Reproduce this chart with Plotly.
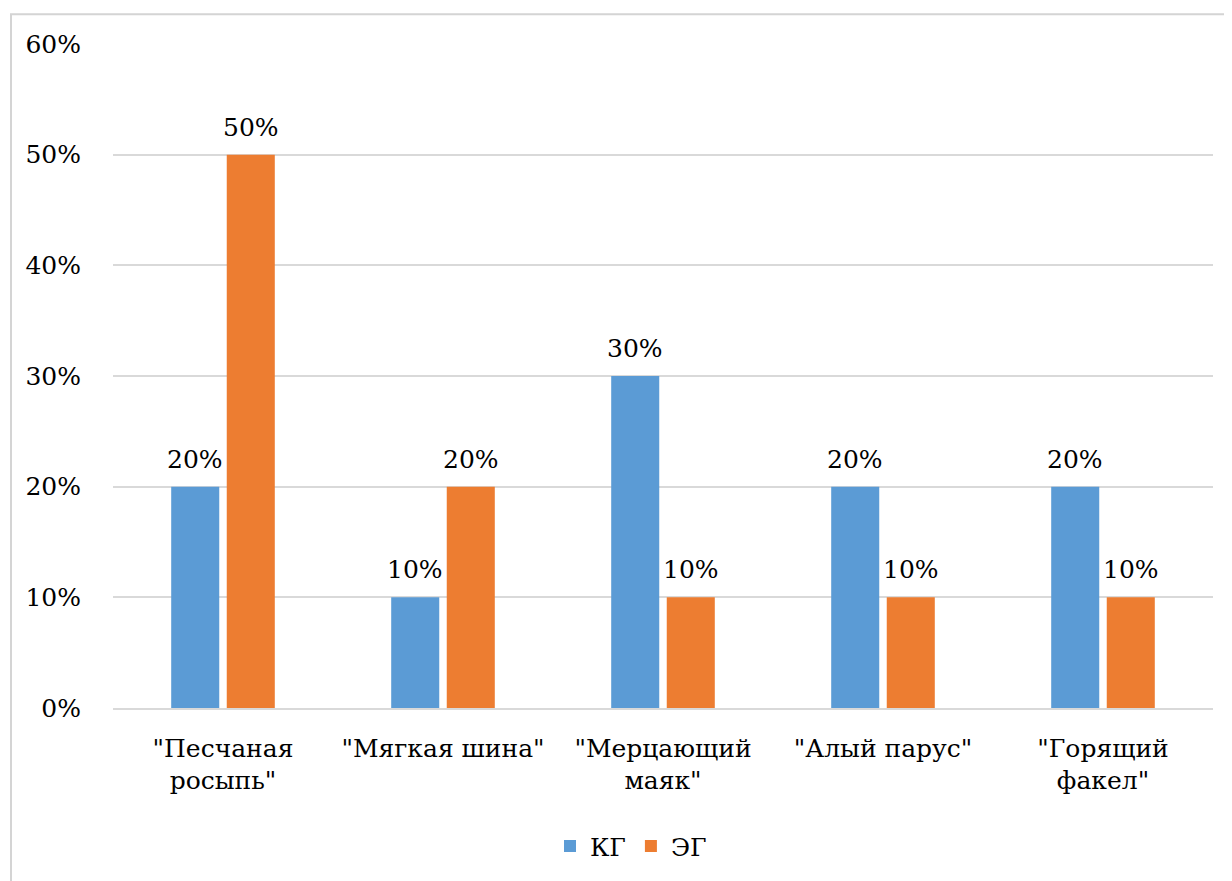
import plotly.graph_objects as go

categories = ['"Песчаная<br>росыпь"', '"Мягкая шина"', '"Мерцающий<br>маяк"', '"Алый парус"', '"Горящий<br>факел"']
kg_values = [0.20, 0.10, 0.30, 0.20, 0.20]
eg_values = [0.50, 0.20, 0.10, 0.10, 0.10]
series_names = ["КГ", "ЭГ"]
tick_vals = [0, 0.1, 0.2, 0.3, 0.4, 0.5, 0.6]
tick_text = ["0%", "10%", "20%", "30%", "40%", "50%", "60%"]

FONT = "DejaVu Serif"
FS = 25

OFF = 8  # page body margin
W, H = 1232 - OFF, 881 - OFF
L, T = 113 - OFF, 44 - OFF
R = W - (1213 - OFF)
B = H - (712 - OFF)
pw, ph = W - L - R, H - T - B
slot = pw / len(categories)
bar_shift = slot * (1 - 0.495) / 4

fig = go.Figure()
fig.add_trace(go.Bar(
    x=categories, y=kg_values, name=series_names[0],
    marker=dict(color="#5B9BD5", line=dict(width=0)),
))
fig.add_trace(go.Bar(
    x=categories, y=eg_values, name=series_names[1],
    marker=dict(color="#ED7D31", line=dict(width=0)),
))

for vals, sh in ((kg_values, -bar_shift), (eg_values, bar_shift)):
    for c, v in zip(categories, vals):
        fig.add_annotation(x=c, y=v, xref="x", yref="y", text=f"{v*100:.0f}%",
                           showarrow=False, xanchor="center", yanchor="bottom",
                           xshift=sh, yshift=11,
                           font=dict(family=FONT, size=FS, color="#000000"))

def px_to_paper_x(px):
    return (px - OFF - L) / pw

def px_to_paper_y(py):
    return (H - B - (py - OFF)) / ph

fig.add_shape(type="rect", xref="paper", yref="paper",
              x0=px_to_paper_x(11), x1=px_to_paper_x(1250),
              y0=px_to_paper_y(900), y1=px_to_paper_y(14),
              line=dict(color="#D4D4D4", width=2), fillcolor="rgba(0,0,0,0)", layer="below")

fig.update_layout(
    width=W, height=H,
    margin=dict(l=L, r=R, t=T, b=B, pad=0),
    paper_bgcolor="white", plot_bgcolor="white",
    barmode="group", bargap=0.495, bargroupgap=0.135,
    font=dict(family=FONT, size=FS, color="#000000"),
    showlegend=True,
    legend=dict(orientation="h", xanchor="center", x=px_to_paper_x(631),
                yanchor="middle", y=px_to_paper_y(851),
                font=dict(family=FONT, size=FS, color="#000000"),
                itemwidth=30, traceorder="normal"),
    xaxis=dict(showgrid=False, showline=True, linecolor="#D9D9D9", linewidth=1.5,
               ticks="", ticklabelstandoff=17,
               tickfont=dict(family=FONT, size=FS, color="#000000")),
    yaxis=dict(range=[0, 0.6], tickvals=tick_vals, ticktext=tick_text,
               showgrid=True, gridcolor="#D9D9D9", gridwidth=1.5,
               zeroline=False, showline=False, ticks="", ticklabelstandoff=31,
               tickfont=dict(family=FONT, size=FS, color="#000000")),
)

fig.write_html("out.html")
